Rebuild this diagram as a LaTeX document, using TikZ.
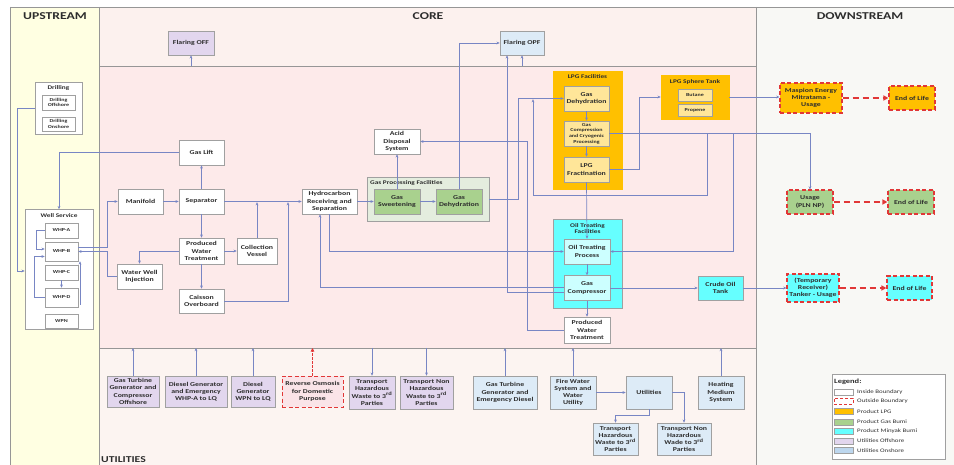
\documentclass[tikz,border=0pt]{standalone}
\usepackage{fontspec}
\setmainfont{Carlito}[FakeStretch=1.3]
\usetikzlibrary{arrows.meta}
\definecolor{upbg}{RGB}{255,255,226}
\definecolor{coretop}{RGB}{252,241,238}
\definecolor{coremid}{RGB}{253,234,234}
\definecolor{utilbg}{RGB}{252,244,241}
\definecolor{downbg}{RGB}{248,248,245}
\definecolor{pline}{RGB}{150,150,150}
\definecolor{bdr}{RGB}{160,160,160}
\definecolor{txt}{RGB}{45,45,45}
\definecolor{lnc}{RGB}{120,134,196}
\definecolor{redd}{RGB}{225,55,55}
\definecolor{lav}{RGB}{226,214,238}
\definecolor{lblue}{RGB}{221,235,247}
\definecolor{lpgor}{RGB}{255,192,0}
\definecolor{lpgin}{RGB}{255,230,153}
\definecolor{grn}{RGB}{169,209,142}
\definecolor{gpfbg}{RGB}{228,237,222}
\definecolor{cyn}{RGB}{102,255,255}
\definecolor{cynl}{RGB}{204,255,255}
\definecolor{rosbg}{RGB}{250,228,232}
\definecolor{utilon}{RGB}{189,215,238}
\newcommand{\fMain}{\bfseries\fontsize{6}{7.2}\selectfont}
\newcommand{\fSmall}{\bfseries\fontsize{4.6}{5.6}\selectfont}
\newcommand{\fCmp}{\bfseries\fontsize{5.6}{6.6}\selectfont}
\newcommand{\fHead}{\bfseries\fontsize{10.5}{12}\selectfont}
\begin{document}
\begin{tikzpicture}[x=1pt,y=-1pt,
  bx/.style={draw=bdr, line width=0.6pt, fill=white, align=center, inner sep=0pt, text=txt, font=\fMain},
  sz/.style 2 args={minimum width=#1pt, minimum height=#2pt},
  off/.style={bx, fill=lav},
  onu/.style={bx, fill=lblue},
  lpgb/.style={bx, fill=lpgin},
  grnb/.style={bx, fill=grn},
  cynb/.style={bx, fill=cynl},
  ext/.style={bx, draw=redd, line width=1.1pt, dash pattern=on 4pt off 2.5pt},
  ttl/.style={inner sep=0pt, text=txt, font=\fCmp, align=center},
  conn/.style={draw=lnc, line width=0.7pt, -{Stealth[length=3.2pt,width=2.8pt]}},
  rarr/.style={draw=redd, line width=1.4pt, dash pattern=on 6pt off 4pt, -{Triangle[length=5pt,width=5pt]}},
  rthin/.style={draw=redd, line width=0.7pt, dash pattern=on 2.5pt off 1.5pt, -{Triangle[length=3.5pt,width=3.5pt]}},
  pl/.style={draw=pline, line width=0.8pt},
  lgt/.style={anchor=west, inner sep=0pt, text=txt, font=\fontsize{5.3}{6}\selectfont},
  sw/.style={draw=bdr, line width=0.5pt, minimum width=19pt, minimum height=6pt, inner sep=0pt},
  head/.style={inner sep=0pt, text=txt, font=\fHead}
]
\useasboundingbox (0,0) rectangle (954,465);
% panels
\fill[white] (0,0) rectangle (954,465);
\fill[upbg] (10,7) rectangle (99,465);
\fill[coretop] (99,7) rectangle (756,66);
\fill[coremid] (99,66) rectangle (756,348);
\fill[utilbg] (99,348) rectangle (756,465);
\fill[downbg] (756,7) rectangle (954,465);
\draw[pl] (10,7) -- (954,7);
\draw[pl] (10,7) -- (10,465);
\draw[pl] (99,7) -- (99,465);
\draw[pl] (756,7) -- (756,465);
\draw[pl] (99,66) -- (756,66);
\draw[pl] (99,348) -- (756,348);
\coordinate (tb) at (0,66);
\coordinate (ub) at (0,348);
% headings
\node[head] (hUp) at (55,16) {UPSTREAM};
\node[head] (hCore) at (428,16) {CORE};
\node[head] (hDown) at (860,16) {DOWNSTREAM};
\node[head, anchor=west, font=\bfseries\fontsize{9}{10}\selectfont] (hUtil) at (101,460) {UTILITIES};
% upstream
\node[bx, minimum width=47pt, minimum height=52pt] (drill) at (58.5,108) {};
\node[ttl] (drillT) at (58.5,88) {Drilling};
\node[bx, font=\fSmall, sz={33}{15}] (drOff) at (58.5,102.5) {Drilling\\Offshore};
\node[bx, font=\fSmall, sz={33}{14}] (drOn) at (58.5,124) {Drilling\\Onshore};
\node[bx, sz={68}{120}] (wellsvc) at (59,269.5) {};
\node[ttl] (wellT) at (59,216) {Well Service};
\node[bx, font=\fSmall, sz={33}{15}] (whpa) at (61.5,230.5) {WHP-A};
\node[bx, font=\fSmall, sz={33}{19}] (whpb) at (61.5,251.5) {WHP-B};
\node[bx, font=\fSmall, sz={33}{15}] (whpc) at (61.5,272.5) {WHP-C};
\node[bx, font=\fSmall, sz={33}{19}] (whpd) at (61.5,297.5) {WHP-D};
\node[bx, font=\fSmall, sz={33}{14}] (wpn) at (61.5,321) {WPN};
% core
\node[off, sz={46}{24}] (flOFF) at (191,43) {Flaring OFF};
\node[onu, sz={44}{24}] (flOPF) at (522,43) {Flaring OPF};
\node[bx, sz={45}{25}] (gaslift) at (201.5,152.5) {Gas Lift};
\node[bx, sz={45}{25}] (manifold) at (140.5,201.5) {Manifold};
\node[bx, sz={45}{25}] (separator) at (201.5,201.5) {Separator};
\node[bx, sz={45}{26}] (pwt1) at (201.5,251) {Produced\\Water\\Treatment};
\node[bx, sz={40}{26}] (collv) at (257,251) {Collection\\Vessel};
\node[bx, sz={45}{25}] (wwi) at (139.5,276.5) {Water Well\\Injection};
\node[bx, sz={45}{24}] (caisson) at (201.5,301) {Caisson\\Overboard};
\node[bx, sz={55}{25}] (hrs) at (329.5,201.5) {Hydrocarbon\\Receiving and\\Separation};
\node[bx, sz={46}{25}] (ads) at (397,141.5) {Acid\\Disposal\\System};
\node[bx, fill=gpfbg, sz={122}{44}] (gpf) at (428,199) {};
\node[ttl, anchor=west] (gpfT) at (370,183) {Gas Processing Facilities};
\node[grnb, sz={46}{25}] (gsw) at (397,201.5) {Gas\\Sweetening};
\node[grnb, sz={46}{25}] (gdh) at (459,201.5) {Gas\\Dehydration};
\node[bx, fill=lpgor, draw=lpgor, sz={69}{118}] (lpgfac) at (587.5,130) {};
\node[ttl] (lpgT) at (587.5,77) {LPG Facilities};
\node[lpgb, sz={45}{25}] (lgd) at (586.5,98.5) {Gas\\Dehydration};
\node[lpgb, font=\fSmall, sz={45}{25}] (lgc) at (586.5,133.5) {Gas\\Compression\\and Cryogenic\\Processing};
\node[lpgb, sz={45}{25}] (lfr) at (586.5,169.5) {LPG\\Fractination};
\node[bx, fill=lpgor, draw=lpgor, sz={68}{44}] (sphere) at (695,97) {};
\node[ttl] (sphT) at (695,82) {LPG Sphere Tank};
\node[lpgb, font=\fSmall, sz={34}{12}] (butane) at (695,95) {Butane};
\node[lpgb, font=\fSmall, sz={34}{12}] (propene) at (695,110.5) {Propene};
\node[bx, fill=cyn, draw=bdr, sz={69}{89}] (oilfac) at (587.5,263.5) {};
\node[ttl] (oilT) at (587.5,228.5) {Oil Treating\\Facilities};
\node[cynb, sz={46}{25}] (otp) at (587,251.5) {Oil Treating\\Process};
\node[cynb, sz={46}{25}] (gcomp) at (587,288) {Gas\\Compressor};
\node[bx, sz={46}{26}] (pwt2) at (587,330) {Produced\\Water\\Treatment};
\node[bx, fill=cyn, sz={45}{24}] (crude) at (720.5,288) {Crude Oil\\Tank};
% downstream
\node[ext, fill=lpgor, sz={62}{30}] (maspion) at (811,98) {Maspion Energy\\Mitratama -\\Usage};
\node[ext, fill=lpgor, sz={46}{24}] (eol1) at (912,98) {End of Life};
\node[ext, fill=grn, sz={46}{24}] (usage) at (810,202) {Usage\\(PLN NP)};
\node[ext, fill=grn, sz={46}{24}] (eol2) at (911,202) {End of Life};
\node[ext, fill=cyn, sz={52}{28}] (temp) at (813,288) {(Temporary\\Receiver)\\Tanker - Usage};
\node[ext, fill=cyn, sz={45}{24}] (eol3) at (909.5,288) {End of Life};
% utilities
\node[off, sz={52}{31}] (u1) at (133,391.5) {Gas Turbine\\Generator and\\Compressor\\Offshore};
\node[off, sz={62}{31}] (u2) at (196,391.5) {Diesel Generator\\and Emergency\\WHP-A to LQ};
\node[off, sz={44}{31}] (u3) at (253,391.5) {Diesel\\Generator\\WPN to LQ};
\node[ext, fill=rosbg, line width=0.9pt, sz={61}{31}] (u4) at (312.5,391.5) {Reverse Osmosis\\for Domestic\\Purpose};
\node[off, sz={46}{33}] (u5) at (372,392.5) {Transport\\Hazardous\\Waste to 3\textsuperscript{rd}\\Parties};
\node[off, sz={53}{33}] (u6) at (426.5,392.5) {Transport Non\\Hazardous\\Waste to 3\textsuperscript{rd}\\Parties};
\node[onu, sz={64}{33}] (u7) at (505,392.5) {Gas Turbine\\Generator and\\Emergency Diesel};
\node[onu, sz={46}{33}] (u8) at (573,392.5) {Fire Water\\System and\\Water\\Utility};
\node[onu, sz={46}{33}] (u9) at (649,392.5) {Utilities};
\node[onu, sz={45}{32}] (u10) at (615.5,439) {Transport\\Hazardous\\Waste to 3\textsuperscript{rd}\\Parties};
\node[onu, sz={54}{32}] (u11) at (684,439) {Transport Non\\Hazardous\\Wade to 3\textsuperscript{rd}\\Parties};
\node[onu, sz={46}{33}] (u12) at (721,392.5) {Heating\\Medium\\System};
% legend
\node[bx, sz={113}{85}] (leg) at (888.5,416.5) {};
\node[inner sep=0pt, anchor=west, text=txt, font=\bfseries\fontsize{6.5}{7}\selectfont] (legT) at (834,382) {Legend:};
\node[sw, fill=white] (s1) at (843.5,392) {};
\node[sw, fill=white, draw=redd, line width=0.9pt, dash pattern=on 3pt off 2pt] (s2) at (843.5,401) {};
\node[sw, fill=lpgor] (s3) at (843.5,411.5) {};
\node[sw, fill=grn] (s4) at (843.5,422) {};
\node[sw, fill=cyn] (s5) at (843.5,431.5) {};
\node[sw, fill=lav] (s6) at (843.5,441) {};
\node[sw, fill=utilon] (s7) at (843.5,450.5) {};
\node[lgt] (l1) at (857,392) {Inside Boundary};
\node[lgt] (l2) at (857,401) {Outside Boundary};
\node[lgt] (l3) at (857,411.5) {Product LPG};
\node[lgt] (l4) at (857,422) {Product Gas Bumi};
\node[lgt] (l5) at (857,431.5) {Product Minyak Bumi};
\node[lgt] (l6) at (857,441) {Utilities Offshore};
\node[lgt] (l7) at (857,450.5) {Utilities Onshore};
% coordinates on lines
\coordinate (j1) at (288,202.2);
\coordinate (j2) at (257,202.2);
\coordinate (j3) at (533,99.2);
\coordinate (b1) at (733,133.5);
\coordinate (b2) at (707,133.5);
\coordinate (wd) at (80,305);
% upstream connectors
\draw[conn] (drill.west) -- (17,108) -- (17,271) -- (wellsvc.west |- 0,271);
\draw[conn] (gaslift.west) -| (wellsvc.north);
\draw[conn] (whpb.east |- 0,247) -- (107,247) |- (manifold.west);
\draw[conn] (wwi.west) -- (107,276.5) |- (whpb.east |- 0,251.5);
\draw[conn] (pwt1.west) -| (wwi.north);
\draw[conn] (whpa.west) -- (36,230.5) |- (whpb.west |- 0,249);
\draw[conn] (whpd.west) -- (34,297.5) |- (whpb.west |- 0,256.5);
\draw[conn] (whpc.south) -- (whpd.north);
\draw[conn] (wd) -- (wd |- whpb.south);
% core connectors
\draw[conn] (separator.north) -- (gaslift.south);
\draw[conn] (manifold.east) -- (separator.west);
\draw[conn] (separator.east) -- (hrs.west);
\draw[conn] (collv.north) -- (j2);
\draw[conn] (pwt1.east) -- (collv.west);
\draw[conn] (separator.south) -- (pwt1.north);
\draw[conn] (pwt1.south) -- (caisson.north);
\draw[conn] (caisson.east) -| (j1);
\draw[conn] (hrs.east) -- (gsw.west);
\draw[conn] (gsw.east) -- (gdh.west);
\draw[conn] (gsw.north) -- (ads.south);
\draw[conn] (gdh.north) |- (flOPF.west);
\draw[conn] (gpf.east) -- (518,199) |- (lgd.west);
\draw[conn] (lgd.south) -- (lgc.north);
\draw[conn] (lgc.south) -- (lfr.north);
\draw[conn] (lfr.east) -- (639,169.5) |- (sphere.west);
\draw[conn] (sphere.east) -- (maspion.west |- sphere.east);
\draw[conn] (lgc.east) -| (usage.north);
\draw[conn] (b1) |- (otp.east);
\draw[conn] (b2) |- (533,195) -- (j3);
\draw[conn] (pwt2.west) -| (527,141.5) -- (ads.east);
\draw[conn] (gcomp.west |- 0,292.5) -| ([xshift=-15pt]flOPF.south);
\draw[conn] (flOPF.south |- tb) -- (flOPF.south);
\draw[conn] (flOFF.south |- tb) -- (flOFF.south);
\draw[conn] (gcomp.west |- 0,287) -| ([xshift=-9.5pt]hrs.south);
\draw[conn] (hrs.south) |- (otp.west);
\draw[conn] (lfr.south) -- (otp.north);
\draw[conn] (otp.south) -- (gcomp.north);
\draw[conn] (gcomp.south) -- (pwt2.north);
\draw[conn] (gcomp.east) -- (crude.west);
\draw[conn] (crude.east) -- (temp.west);
\draw[rarr] (maspion.east) -- (eol1.west);
\draw[rarr] (usage.east) -- (eol2.west);
\draw[rarr] (temp.east) -- (eol3.west);
% utilities connectors
\draw[conn] (u1.north) -- (u1.north |- ub);
\draw[conn] (u2.north) -- (u2.north |- ub);
\draw[conn] (u3.north) -- (u3.north |- ub);
\draw[rthin] (u4.north) -- (u4.north |- ub);
\draw[conn] (u5.north |- ub) -- (u5.north);
\draw[conn] (u6.north |- ub) -- (u6.north);
\draw[conn] (u7.north) -- (u7.north |- ub);
\draw[conn] (u8.north) -- (u8.north |- ub);
\draw[conn] (u8.east) -- (u9.west);
\draw[conn] (u9.south) -- (649,415) -| (u10.north);
\draw[conn] (u9.east) -| (u11.north);
\draw[conn] (u12.north) -- (u12.north |- ub);
\end{tikzpicture}
\end{document}
